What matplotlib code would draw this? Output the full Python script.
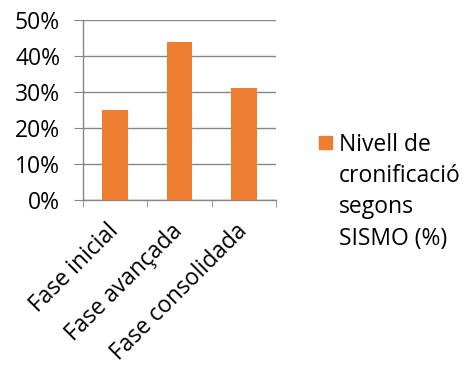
import matplotlib
matplotlib.use("Agg")
import matplotlib.pyplot as plt
from matplotlib.patches import Rectangle
from matplotlib.ticker import FuncFormatter

categories = ["Fase inicial", "Fase avançada", "Fase consolidada"]
values = [25, 44, 31]
yticks = [0, 10, 20, 30, 40, 50]
legend_label = "Nivell de\ncronificació\nsegons\nSISMO (%)"

orange = "#ED7D31"
grey = "#868686"
font = "Open Sans"
fs = 16.5

plt.rcParams["font.family"] = [font, "DejaVu Sans"]

fig = plt.figure(figsize=(4.67, 3.65), dpi=100)
ax = fig.add_axes([83 / 467, 1 - 200 / 365, 193 / 467, 180 / 365])

x = list(range(len(categories)))
ax.bar(x, values, width=0.4, color=orange, zorder=3)

ax.set_xlim(-0.5, len(categories) - 0.5)
ax.set_ylim(0, 50)
ax.set_yticks(yticks)
ax.yaxis.set_major_formatter(FuncFormatter(lambda v, p: f"{v:.0f}%"))
ax.grid(axis="y", color=grey, lw=1, zorder=0)

for s in ["top", "right"]:
    ax.spines[s].set_visible(False)
for s in ["left", "bottom"]:
    ax.spines[s].set_color(grey)
    ax.spines[s].set_linewidth(1)

ax.tick_params(axis="y", length=6.5, color=grey, labelsize=fs, pad=10)
ax.set_xticks(x)
ax.set_xticklabels(categories, rotation=45, ha="right", va="center",
                   rotation_mode="anchor", fontsize=fs)
ax.tick_params(axis="x", which="major", length=0, pad=20)
ax.set_xticks([i - 0.5 for i in range(len(categories) + 1)], minor=True)
ax.tick_params(axis="x", which="minor", length=5, color=grey)

# legenda po prawej
fig.patches.append(Rectangle((319 / 467, 1 - 149 / 365), 13 / 467, 13 / 365,
                             transform=fig.transFigure, color=orange))
fig.text(339 / 467, 1 - 133 / 365, legend_label, fontsize=fs, va="top",
         ha="left", linespacing=1.4)

fig.savefig("out.png", dpi=100)
